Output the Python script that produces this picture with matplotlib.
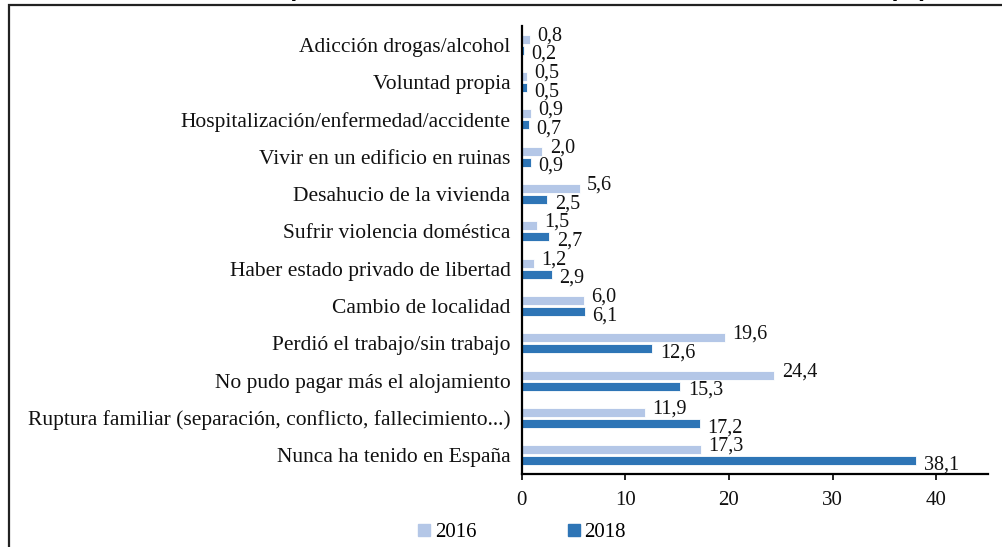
import matplotlib
matplotlib.use("Agg")
import matplotlib.pyplot as plt
from matplotlib.lines import Line2D
from matplotlib.patches import Rectangle
import numpy as np

categories = [
    "Adicción drogas/alcohol",
    "Voluntad propia",
    "Hospitalización/enfermedad/accidente",
    "Vivir en un edificio en ruinas",
    "Desahucio de la vivienda",
    "Sufrir violencia doméstica",
    "Haber estado privado de libertad",
    "Cambio de localidad",
    "Perdió el trabajo/sin trabajo",
    "No pudo pagar más el alojamiento",
    "Ruptura familiar (separación, conflicto, fallecimiento...)",
    "Nunca ha tenido en España",
]
values_2016 = [0.8, 0.5, 0.9, 2.0, 5.6, 1.5, 1.2, 6.0, 19.6, 24.4, 11.9, 17.3]
values_2018 = [0.2, 0.5, 0.7, 0.9, 2.5, 2.7, 2.9, 6.1, 12.6, 15.3, 17.2, 38.1]
series_labels = ["2016", "2018"]
x_ticks = [0, 10, 20, 30, 40]
title = "Motivos por los cuales no tiene vivienda en este momento (%)"

c16 = "#b4c7e7"
c18 = "#2e75b6"
serif = ["Liberation Serif", "DejaVu Serif"]

W, H = 1002, 547
fig = plt.figure(figsize=(W / 100, H / 100), dpi=100)
ax = fig.add_axes([521.5 / W, 1 - 474 / H, (988 - 521.5) / W, (474 - 26) / H])

y = np.arange(len(categories))
bh = 0.24
off = 0.145
ax.barh(y - off, values_2016, height=bh, color=c16, edgecolor="white", linewidth=0.6)
ax.barh(y + off, values_2018, height=bh, color=c18, edgecolor="white", linewidth=0.6)

def fmt(v):
    return f"{v:.1f}".replace(".", ",")

for yi, v in zip(y, values_2016):
    ax.annotate(fmt(v), (v, yi - off), xytext=(5.5, 2.5), textcoords="offset points",
                ha="left", va="center", fontsize=14.5, family=serif, color="#111111")
for yi, v in zip(y, values_2018):
    ax.annotate(fmt(v), (v, yi + off), xytext=(5.5, -3), textcoords="offset points",
                ha="left", va="center", fontsize=14.5, family=serif, color="#111111")

ax.set_xlim(0, 45)
ax.set_ylim(len(categories) - 0.5, -0.5)
ax.set_yticks(y)
ax.set_yticklabels(categories, family=serif, fontsize=15.5, color="#111111")
ax.tick_params(axis="y", length=0, pad=8)
ax.set_xticks(x_ticks)
ax.set_xticklabels([str(t) for t in x_ticks], family=serif, fontsize=15, color="#111111")
ax.tick_params(axis="x", length=4, width=1.2, direction="out", pad=8)
for s in ["top", "right"]:
    ax.spines[s].set_visible(False)
ax.spines["left"].set_linewidth(1.6)
ax.spines["bottom"].set_linewidth(1.6)
ax.set_facecolor("none")

handles = [Line2D([], [], marker="s", ls="", markersize=8, color=c16),
           Line2D([], [], marker="s", ls="", markersize=8, color=c18)]
fig.legend(handles, series_labels, loc="center", bbox_to_anchor=(522 / W, 1 - 532 / H),
           ncol=2, frameon=False, prop={"family": serif, "size": 15},
           handlelength=0.6, handletextpad=0.2, columnspacing=4.4, borderpad=0)

# outer frame
fig.patches.append(Rectangle((9 / W, -0.2), 1.2, 1.2 - 5 / H, fill=False, lw=1.6,
                             edgecolor="#222222", transform=fig.transFigure, clip_on=False))

fig.text(928 / W, 1 + 4 / H, title, ha="right", va="baseline", fontsize=18,
         fontweight="bold", family=["Liberation Sans", "DejaVu Sans"])

fig.savefig("out.png", dpi=100)
